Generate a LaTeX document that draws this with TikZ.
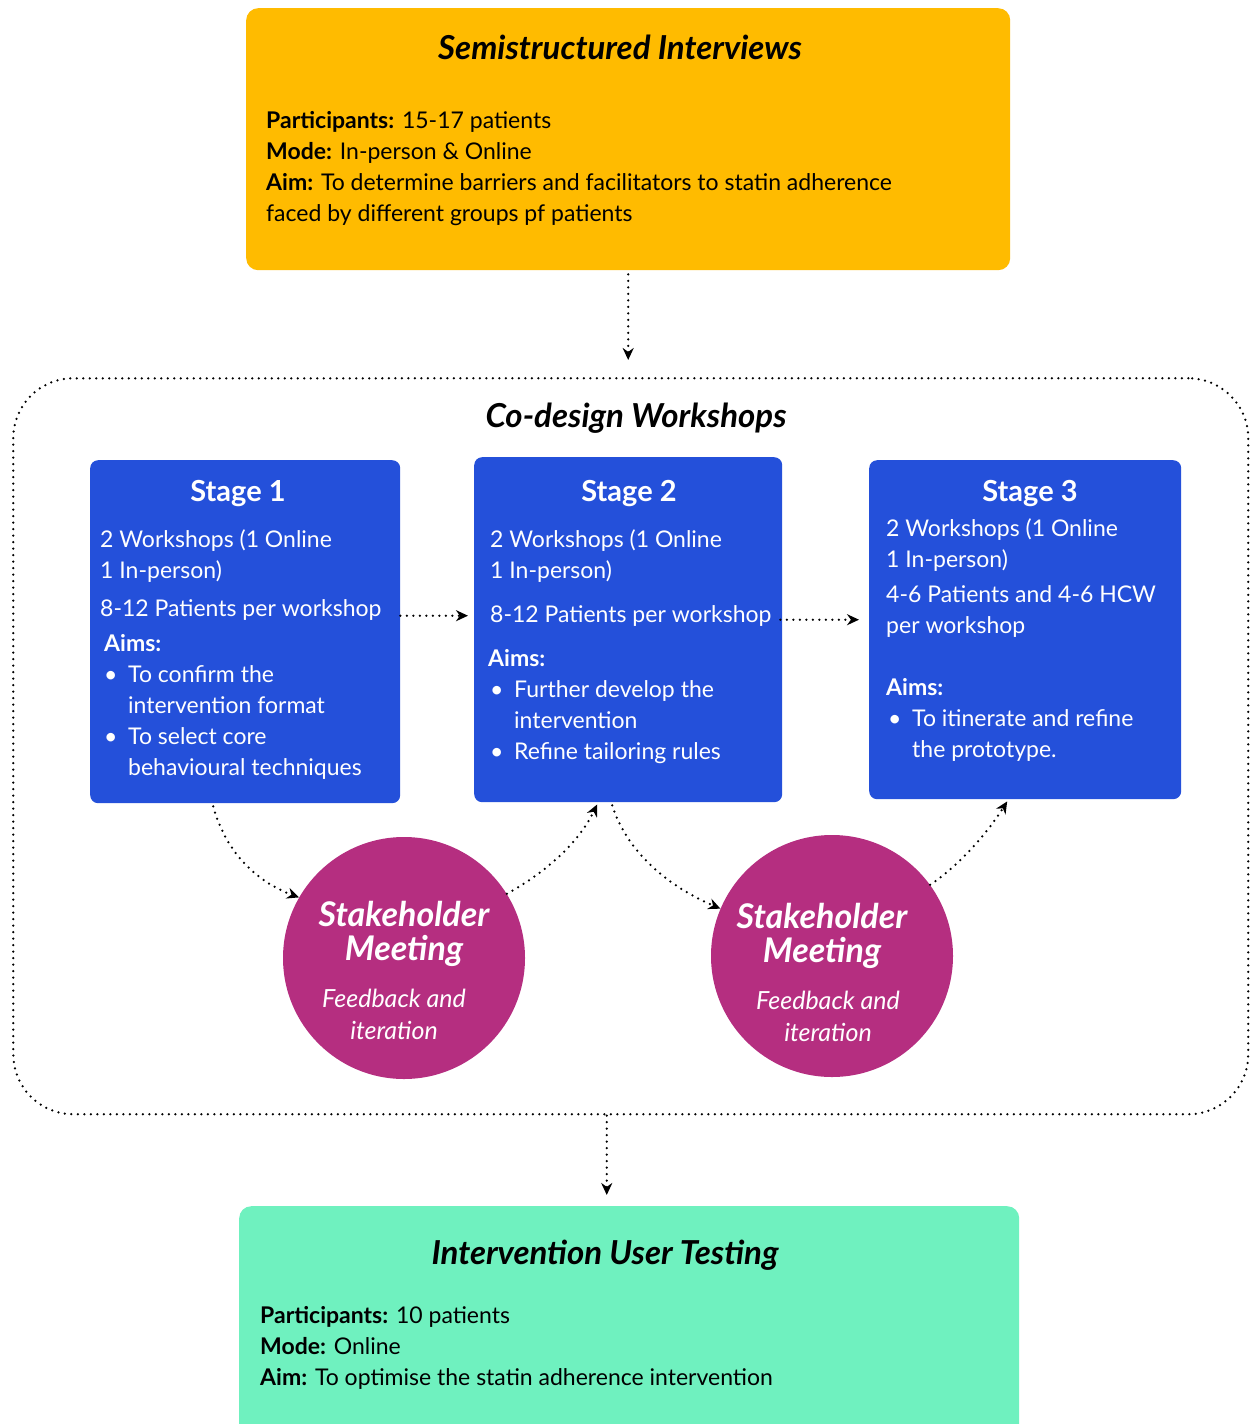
\documentclass[tikz,border=0pt]{standalone}
\usepackage{fontspec}
\setmainfont{Lato}
\usetikzlibrary{arrows.meta}
\definecolor{intyellow}{HTML}{FFBB00}
\definecolor{stageblue}{HTML}{2450DA}
\definecolor{meetpink}{HTML}{B52E80}
\definecolor{testgreen}{HTML}{6FF1BF}
\newcommand{\bul}{\makebox[24pt][l]{\textbullet}}
\newcommand{\ind}{\hspace*{24pt}}

\begin{document}
\begin{tikzpicture}[x=1pt,y=-1pt,
    panel/.style={rounded corners=12pt,inner sep=0pt,anchor=north west},
    flow/.style={line width=2.5pt,dash pattern=on 0pt off 6.5pt,line cap=round,-{Stealth[length=12pt,width=11pt]}},
    heading/.style={font=\fontsize{33}{36}\selectfont\bfseries\itshape},
    stagehead/.style={font=\fontsize{29}{32}\selectfont\bfseries,text=white},
    body/.style={anchor=north west,align=left,inner sep=0pt,font=\fontsize{23}{31}\selectfont}]

\useasboundingbox (0,0) rectangle (1250,1424);

% semistructured interviews
\node[panel,fill=intyellow,minimum width=764,minimum height=262] (interviews) at (246,8) {};
\node[heading] (inttitle) at (620,47) {Semistructured Interviews};
\node[body] (inttext) at (266,111) {\textbf{Participants:} 15-17 patients\\
  \textbf{Mode:} In-person \&{} Online\\
  \textbf{Aim:} To determine barriers and facilitators to statin adherence\\
  faced by different groups pf patients};

% co-design workshops
\node[panel,draw,line width=2.5pt,dash pattern=on 0pt off 6.5pt,line cap=round,rounded corners=60pt,minimum width=1235,minimum height=736] (codesign) at (12,377) {};
\node[heading] (cdtitle) at (636,418) {Co-design Workshops};

\node[panel,fill=stageblue,rounded corners=8pt,minimum width=310,minimum height=343] (stage1) at (90,460) {};
\node[panel,fill=stageblue,rounded corners=8pt,minimum width=308,minimum height=345] (stage2) at (474,457) {};
\node[panel,fill=stageblue,rounded corners=8pt,minimum width=312,minimum height=339] (stage3) at (869,460) {};

\node[stagehead] (s1title) at (238,494) {Stage 1};
\node[stagehead] (s2title) at (629,494) {Stage 2};
\node[stagehead] (s3title) at (1030,494) {Stage 3};

\node[body,text=white] (s1text) at (100,529) {2 Workshops (1 Online\\
  1 In-person)\\[7pt]
  8-12 Patients per workshop\\[4pt]
  \hspace*{4pt}\textbf{Aims:}\\
  \hspace*{4pt}\bul To confirm the\\
  \hspace*{4pt}\ind intervention format\\
  \hspace*{4pt}\bul To select  core\\
  \hspace*{4pt}\ind behavioural techniques};
\node[body,text=white] (s2text) at (490,529) {2 Workshops (1 Online\\
  1 In-person)\\[13pt]
  8-12 Patients per workshop\\[13pt]
  \hspace*{-2pt}\textbf{Aims:}\\
  \bul Further develop the\\
  \ind intervention\\
  \bul Refine tailoring rules};
\node[body,text=white] (s3text) at (886,518) {2 Workshops (1 Online\\
  1 In-person)\\[4pt]
  4-6 Patients and 4-6 HCW\\
  per workshop\\[31pt]
  \textbf{Aims:}\\
  \hspace*{2pt}\bul To itinerate and refine\\
  \hspace*{2pt}\ind the prototype.};

% stakeholder meetings
\node[circle,fill=meetpink,minimum size=242,inner sep=0pt] (meet1) at (404,958) {};
\node[circle,fill=meetpink,minimum size=242,inner sep=0pt] (meet2) at (832,956) {};
\foreach \m/\xa/\xb/\y in {meet1/404/394/0,meet2/822/828/2} {
  \node[align=center,text=white,font=\fontsize{34}{34}\selectfont\bfseries\itshape] (\m name) at (\xa,934+\y) {Stakeholder\\Meeting};
  \node[align=center,text=white,font=\fontsize{25}{32}\selectfont\itshape] (\m note) at (\xb,1014+\y) {Feedback and\\iteration};
}

% connectors
\coordinate (intout) at ([yshift=-4pt]interviews.south);
\coordinate (cdin) at (intout |- 0,360);
\draw[flow] (intout) -- (cdin);

\coordinate (s1out) at ([yshift=16pt]stage1.east);
\draw[flow,shorten >=6pt] (s1out) -- (s1out -| stage2.west);
\coordinate (s2out) at ([yshift=10pt,xshift=-2pt]stage2.east);
\draw[flow,shorten >=10pt] (s2out) -- (s2out -| stage3.west);

\draw[flow] ([xshift=-32pt,yshift=-3pt]stage1.south) .. controls (228,860) and (265,885) .. (meet1.150);
\draw[flow] (meet1.32) .. controls (550,870) and (580,840) .. ([xshift=-31pt,yshift=-2pt]stage2.south);
\draw[flow] ([xshift=-16pt,yshift=-3pt]stage2.south) .. controls (628,855) and (672,888) .. (meet2.157);
\draw[flow] (meet2.36) .. controls (960,865) and (988,832) .. ([xshift=-18pt,yshift=-2pt]stage3.south);

\coordinate (cdout) at ([xshift=-24pt]codesign.south);
\draw[flow,shorten >=11pt] (cdout) -- (cdout |- 0,1206);

% intervention user testing
\node[panel,fill=testgreen,minimum width=780,minimum height=240] (testing) at (239,1206) {};
\node[heading] (testtitle) at (605,1255) {Intervention User Testing};
\node[body] (testtext) at (260,1306) {\textbf{Participants:} 10 patients\\
  \textbf{Mode:} Online\\
  \textbf{Aim:} To optimise the statin adherence intervention};

\end{tikzpicture}
\end{document}
